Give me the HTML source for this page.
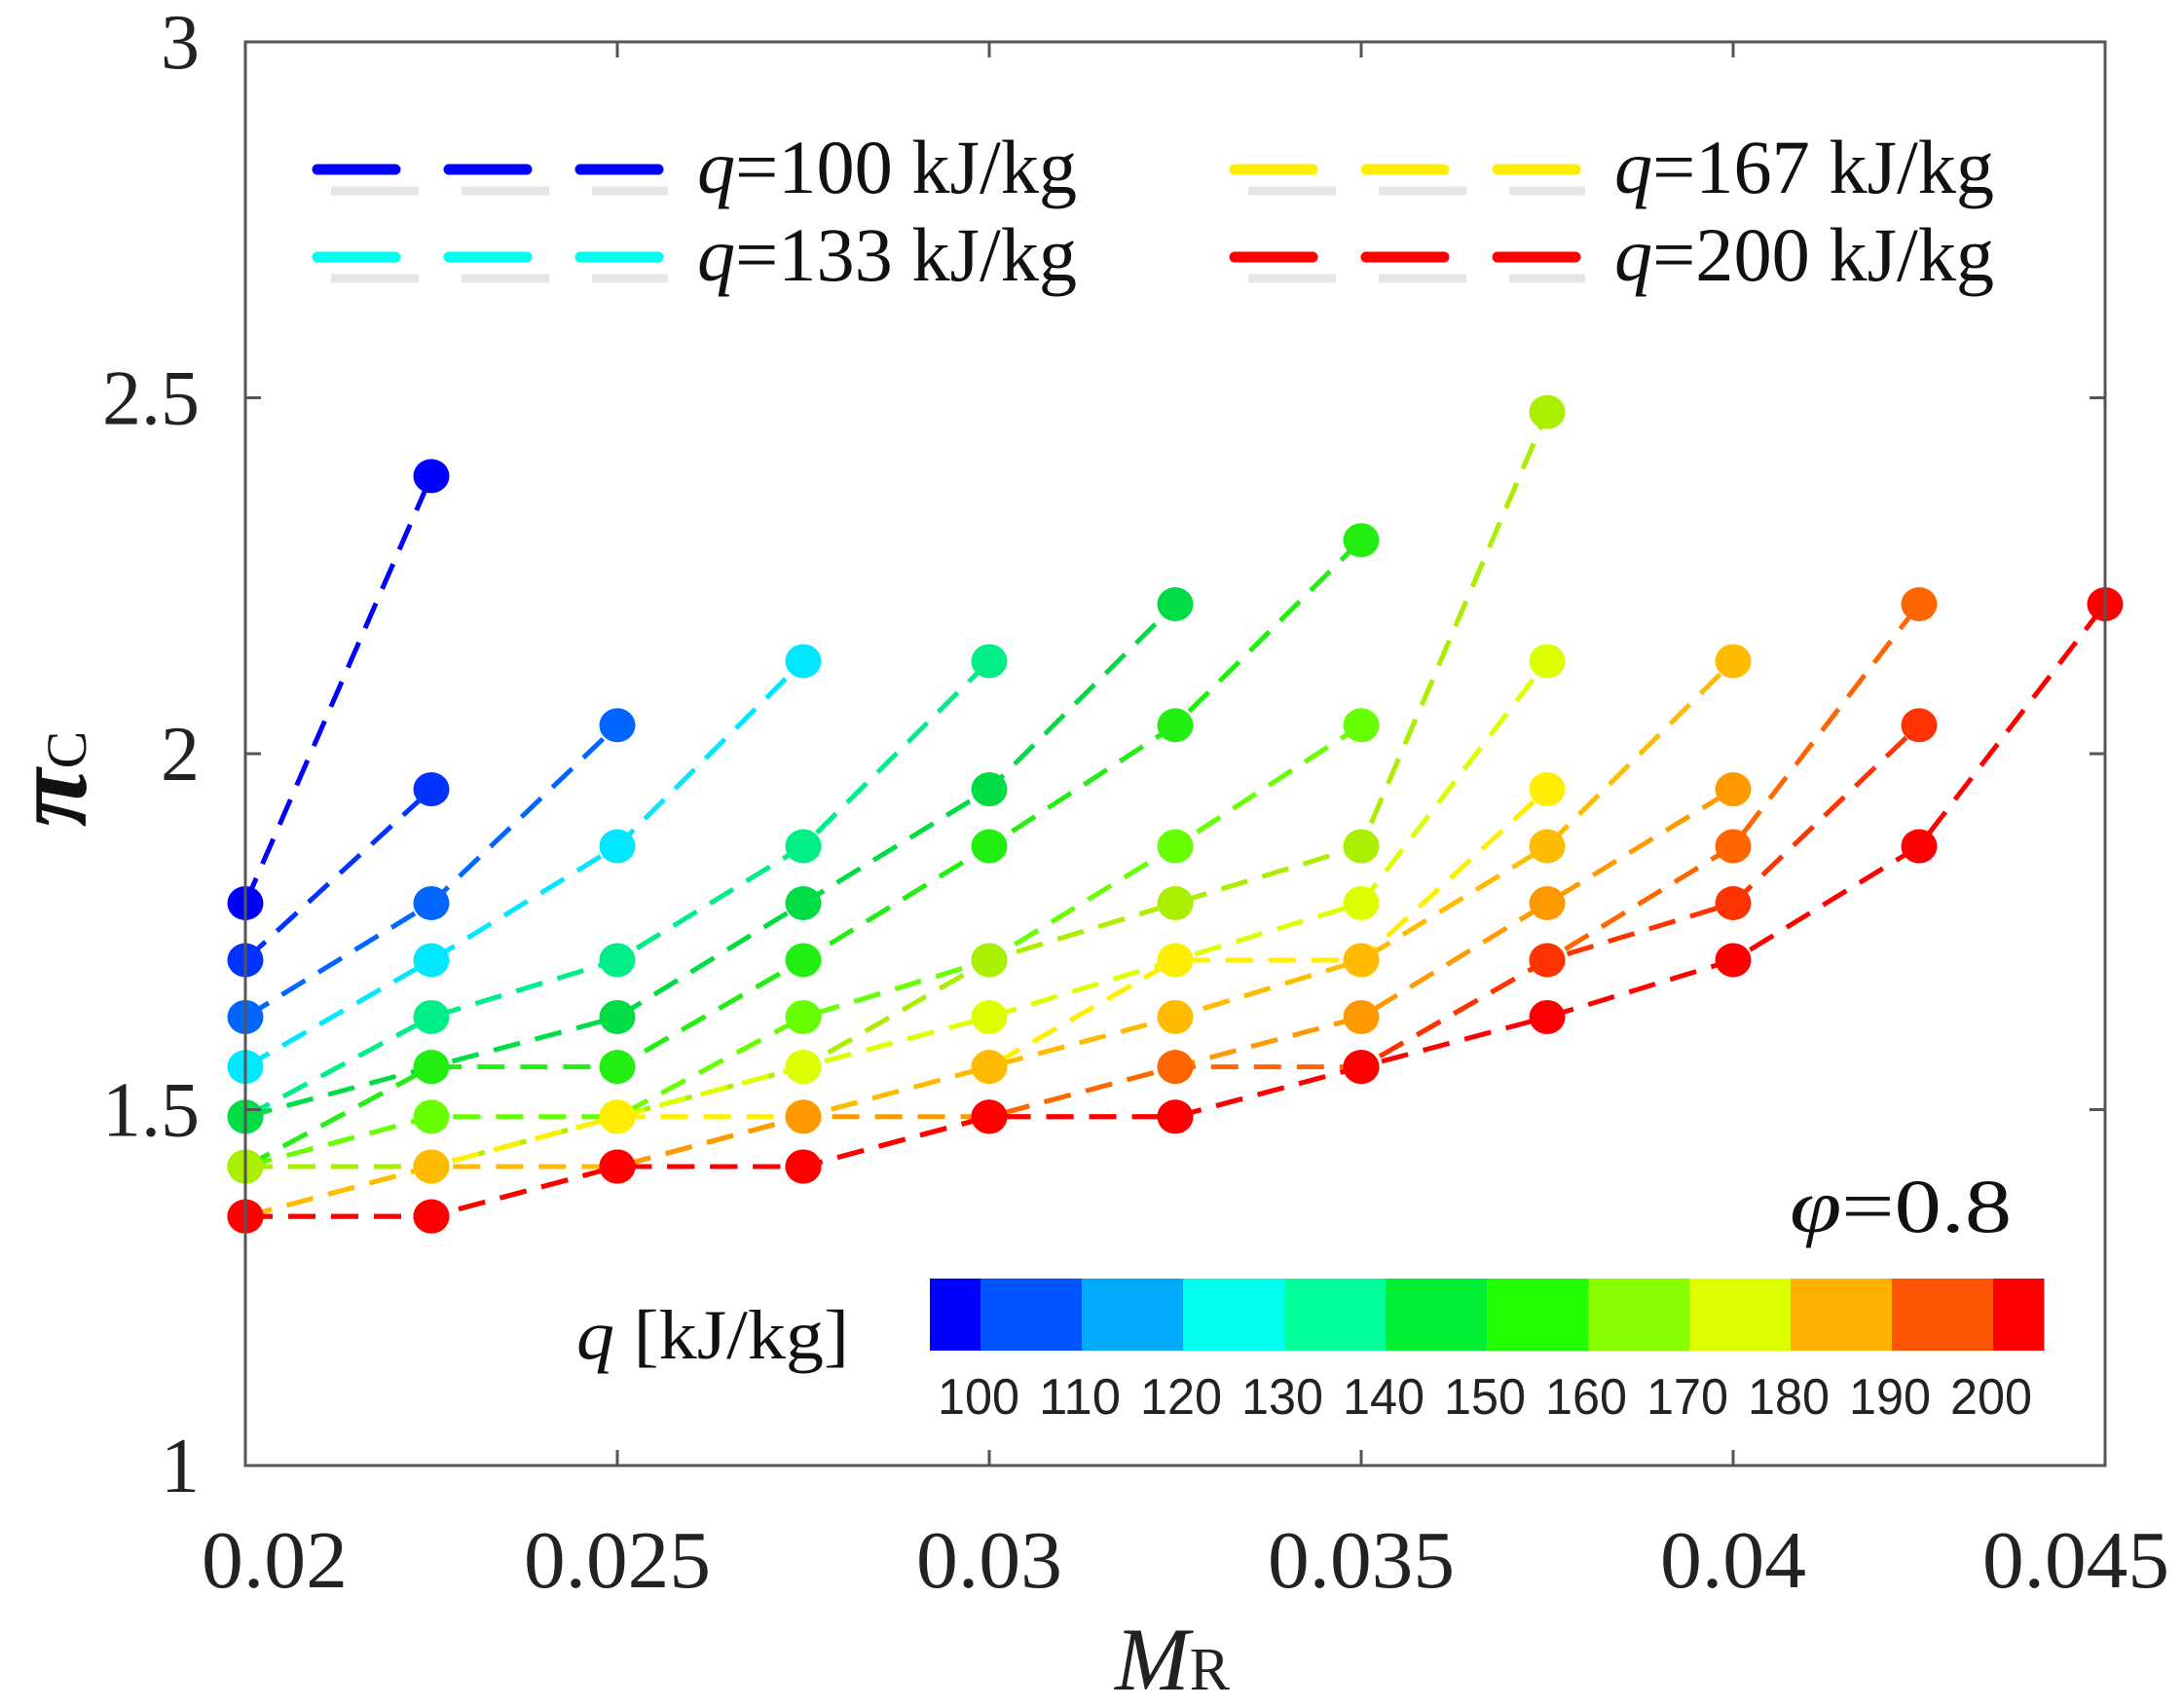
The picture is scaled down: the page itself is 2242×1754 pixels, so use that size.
<!DOCTYPE html>
<html><head><meta charset="utf-8"><style>
html,body{margin:0;padding:0;background:#fff;}
svg{display:block;}
</style></head><body>
<svg id="chart" width="2242" height="1754" viewBox="0 0 2242 1754" xmlns="http://www.w3.org/2000/svg">
<rect x="0" y="0" width="2242" height="1754" fill="#fff"/>
<g id="series"></g>
<rect x="252" y="43" width="1910" height="1462" fill="none" stroke="#555" stroke-width="3"/>
<g id="ticks"></g>
<g id="legend"></g>
<g id="cbar"></g>
<text x="1838" y="1265" style="font-family:'Liberation Serif',serif" font-size="78" fill="#111" textLength="228" lengthAdjust="spacingAndGlyphs"><tspan font-style="italic">φ</tspan>=0.8</text>
<text x="592" y="1395" style="font-family:'Liberation Serif',serif" font-size="72" fill="#111" textLength="280" lengthAdjust="spacingAndGlyphs"><tspan font-style="italic">q</tspan> [kJ/kg]</text>
<text x="1145" y="1735" style="font-family:'Liberation Serif',serif" font-size="92" fill="#222"><tspan font-style="italic">M</tspan><tspan font-size="62">R</tspan></text>
<text transform="translate(88,800) rotate(-90)" style="font-family:'Liberation Serif',serif" font-size="110" font-weight="bold" fill="#111" text-anchor="middle"><tspan font-style="italic">π</tspan><tspan font-size="58" font-weight="normal">C</tspan></text>
</svg>
<script>
const NS='http://www.w3.org/2000/svg';
const xValues=[0.02,0.0225,0.025,0.0275,0.03,0.0325,0.035,0.0375,0.04,0.0425,0.045];
const seriesColors=['#0000ff','#0033ff','#0066ff','#00e8ff','#00ee88','#00dd44','#22ee11','#66ff00','#aaee00','#ddff00','#ffee00','#ffbb00','#ff9900','#ff6600','#ff3300','#ff0000'];
const sA=[1.79,2.39];
const sB=[1.71,1.95];
const sC=[1.63,1.79,2.04];
const sD=[1.56,1.71,1.87,2.13];
const sE=[1.49,1.63,1.71,1.87,2.13];
const sF=[1.49,1.56,1.63,1.79,1.95,2.21];
const sG=[1.42,1.56,1.56,1.71,1.87,2.04,2.30];
const sH=[1.42,1.49,1.49,1.63,1.71,1.87,2.04];
const sI=[1.42,1.42,1.49,1.56,1.71,1.79,1.87,2.48];
const sJ=[1.35,1.42,1.49,1.56,1.63,1.71,1.79,2.13];
const sK=[1.35,1.42,1.49,1.49,1.56,1.71,1.71,1.95];
const sL=[1.35,1.42,1.42,1.49,1.56,1.63,1.71,1.87,2.13];
const sM=[1.35,1.35,1.42,1.49,1.49,1.56,1.63,1.79,1.95];
const sN=[1.35,1.35,1.42,1.42,1.49,1.56,1.56,1.71,1.87,2.21];
const sP=[1.35,1.35,1.42,1.42,1.49,1.49,1.56,1.71,1.79,2.04];
const sO=[1.35,1.35,1.42,1.42,1.49,1.49,1.56,1.63,1.71,1.87,2.21];
const allSeries=[sA,sB,sC,sD,sE,sF,sG,sH,sI,sJ,sK,sL,sM,sN,sP,sO];
const yTicks=[1,1.5,2,2.5,3];
const yTickLabels=['1','1.5','2','2.5','3'];
const xTicks=[0.02,0.025,0.03,0.035,0.04,0.045];
const xTickLabels=['0.02','0.025','0.03','0.035','0.04','0.045'];
const legendLabels=['100','133','167','200'];
const legendColors=['#0000ff','#00ffee','#ffee00','#ff0000'];
const cbarColors=['#0000ff','#0055ff','#00aaff','#00ffee','#00ff99','#00ee33','#22ff00','#88ff00','#ddff00','#ffb000','#ff5500','#ff0000'];
const cbarLabels=['100','110','120','130','140','150','160','170','180','190','200'];

const X0=252,X1=2162,Y0=1505,Y1=43;
const SERIF="'Liberation Serif', serif";
function sx(v){return X0+(v-0.02)/(0.045-0.02)*(X1-X0);}
function sy(v){return Y0-(v-1)/(3-1)*(Y0-Y1);}
function mk(tag,attrs,parent){const e=document.createElementNS(NS,tag);for(const k in attrs)e.setAttribute(k,attrs[k]);parent.appendChild(e);return e;}

const gS=document.getElementById('series');
allSeries.forEach((s,i)=>{
  const pts=s.map((v,j)=>sx(xValues[j]).toFixed(1)+','+sy(v).toFixed(1)).join(' ');
  const pl=mk('polyline',{points:pts,fill:'none',stroke:seriesColors[i],'stroke-width':5,'stroke-dasharray':'28 16'},gS);
  
  
  s.forEach((v,j)=>{
    const c=mk('ellipse',{cx:sx(xValues[j]),cy:sy(v),rx:18.5,ry:17.5,fill:seriesColors[i]},gS);
    
    
  });
});

const gT=document.getElementById('ticks');
yTicks.forEach((t,i)=>{
  const y=sy(t);
  mk('line',{x1:X0,y1:y,x2:X0+16,y2:y,stroke:'#555','stroke-width':3},gT);
  mk('line',{x1:X1,y1:y,x2:X1-16,y2:y,stroke:'#555','stroke-width':3},gT);
  const tx=mk('text',{x:205,y:y+27,'text-anchor':'end',style:'font-family:'+SERIF,'font-size':80,fill:'#222'},gT);
  tx.textContent=yTickLabels[i];
  
  
});
xTicks.forEach((t,i)=>{
  const x=sx(t);
  mk('line',{x1:x,y1:Y0,x2:x,y2:Y0-16,stroke:'#555','stroke-width':3},gT);
  mk('line',{x1:x,y1:Y1,x2:x,y2:Y1+16,stroke:'#555','stroke-width':3},gT);
  const len=xTickLabels[i].length===4?150:192;
  const tx=mk('text',{x:x+(i===0?30:(i===5?-30:0)),y:1630,'text-anchor':'middle',style:'font-family:'+SERIF,'font-size':84,fill:'#222',textLength:len,lengthAdjust:'spacingAndGlyphs'},gT);
  tx.textContent=xTickLabels[i];
  
  
});

const gL=document.getElementById('legend');
const legPos=[[326,174],[326,264],[1268,174],[1268,264]];
legendLabels.forEach((lab,i)=>{
  const [lx,ly]=legPos[i];
  mk('line',{x1:lx+14,y1:ly+22,x2:lx+360,y2:ly+22,stroke:'#e6e6e6','stroke-width':9,'stroke-dasharray':'90 44'},gL);
  const ln=mk('line',{x1:lx,y1:ly,x2:lx+360,y2:ly,stroke:legendColors[i],'stroke-width':11,'stroke-linecap':'round','stroke-dasharray':'80 55'},gL);
  
  
  const t=mk('text',{x:lx+390,y:ly+24,style:'font-family:'+SERIF,'font-size':78,fill:'#111',textLength:390,lengthAdjust:'spacingAndGlyphs'},gL);
  t.innerHTML='<tspan font-style="italic">q</tspan>='+lab+' kJ/kg';
  
  
});

const gC=document.getElementById('cbar');
const cbX=955,cbW=1144,cbY=1313,cbH=74;
const unit=cbW/11;
cbarColors.forEach((c,i)=>{
  let x,w;
  if(i===0){x=cbX;w=unit/2;}
  else if(i===cbarColors.length-1){x=cbX+unit*(i-0.5);w=unit/2;}
  else{x=cbX+unit*(i-0.5);w=unit;}
  const r=mk('rect',{x:x,y:cbY,width:w+0.5,height:cbH,fill:c},gC);
  
  
});
cbarLabels.forEach((lab,i)=>{
  const t=mk('text',{x:cbX+unit*(i+0.5)-2,y:1452,'text-anchor':'middle',style:"font-family:'Liberation Sans', sans-serif",'font-size':52,fill:'#222',textLength:84,lengthAdjust:'spacingAndGlyphs'},gC);
  t.textContent=lab;
  
  
});
</script>
</body></html>
